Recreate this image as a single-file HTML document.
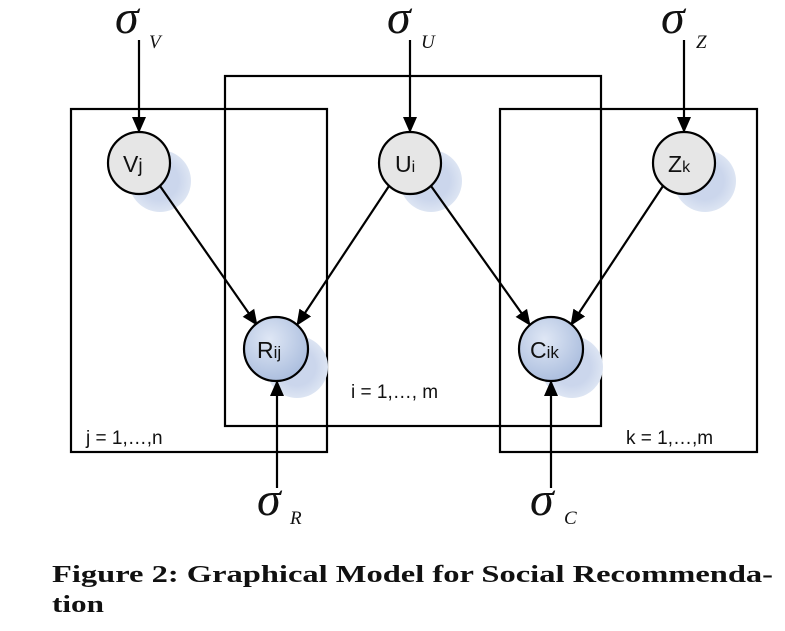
<!DOCTYPE html>
<html><head><meta charset="utf-8"><style>
body{margin:0;background:#fff;width:785px;height:631px;overflow:hidden}
svg{display:block}
.nt{font-family:"Liberation Sans",sans-serif;font-size:23px;fill:#111}
.sg{font-family:"Liberation Serif",serif;font-style:italic;font-size:48px;fill:#111}
.sb{font-family:"Liberation Serif",serif;font-style:italic;font-size:19px;fill:#111}
.lb{font-family:"Liberation Sans",sans-serif;font-size:19px;fill:#111}
.cap{font-family:"Liberation Serif",serif;font-weight:bold;font-size:24px;fill:#111}
</style></head><body>
<svg width="785" height="631" viewBox="0 0 785 631">
<defs>
<marker id="ah2" markerWidth="16" markerHeight="16" refX="15" refY="8" orient="auto" markerUnits="userSpaceOnUse" viewBox="0 0 16 16"><path d="M0,1 L16,8 L0,15 z" fill="#000"/></marker>
<radialGradient id="gb" cx="0.4" cy="0.35" r="0.7"><stop offset="0" stop-color="#dfe7f5"/><stop offset="1" stop-color="#a9bcdd"/></radialGradient>
<radialGradient id="sh" cx="0.5" cy="0.5" r="0.5"><stop offset="0.6" stop-color="#cbd6ec"/><stop offset="1" stop-color="#dde5f3"/></radialGradient>
</defs>
<g fill="none" stroke="#000" stroke-width="2.2">
<rect x="71" y="109" width="256" height="343"/>
<rect x="225" y="76" width="376" height="350"/>
<rect x="500" y="109" width="257" height="343"/>
</g>
<g fill="url(#sh)">
<circle cx="160" cy="181" r="31"/><circle cx="431" cy="181" r="31"/><circle cx="705" cy="181" r="31"/>
<circle cx="297" cy="367" r="31"/><circle cx="572" cy="367" r="31"/>
</g>
<g stroke="#000" stroke-width="2.2" marker-end="url(#ah2)">
<line x1="139" y1="40" x2="139" y2="132"/>
<line x1="410" y1="40" x2="410" y2="132"/>
<line x1="684" y1="40" x2="684" y2="132"/>
<line x1="277" y1="488" x2="277" y2="381"/>
<line x1="551" y1="488" x2="551" y2="381"/>
<line x1="160" y1="186" x2="257" y2="325"/>
<line x1="389" y1="186" x2="297" y2="325"/>
<line x1="431" y1="186" x2="530" y2="325"/>
<line x1="663" y1="186" x2="571" y2="325"/>
</g>
<g stroke="#000" stroke-width="2.2">
<circle cx="139" cy="163" r="31" fill="#e6e6e6"/>
<circle cx="410" cy="163" r="31" fill="#e6e6e6"/>
<circle cx="684" cy="163" r="31" fill="#e6e6e6"/>
<circle cx="276" cy="349" r="32" fill="url(#gb)"/>
<circle cx="551" cy="349" r="32" fill="url(#gb)"/>
</g>
<text class="nt" x="123" y="172">V<tspan font-size="19">j</tspan></text>
<text class="nt" x="395" y="172">U<tspan font-size="16">i</tspan></text>
<text class="nt" x="668" y="172">Z<tspan font-size="16">k</tspan></text>
<text class="nt" x="257" y="358">R<tspan font-size="17">ij</tspan></text>
<text class="nt" x="530" y="358">C<tspan font-size="17">ik</tspan></text>
<text class="sg" x="115" y="33">σ</text><text class="sb" x="149" y="48">V</text>
<text class="sg" x="387" y="33">σ</text><text class="sb" x="421" y="48">U</text>
<text class="sg" x="661" y="33">σ</text><text class="sb" x="696" y="48">Z</text>
<text class="sg" x="257" y="515">σ</text><text class="sb" x="290" y="524">R</text>
<text class="sg" x="530" y="515">σ</text><text class="sb" x="564" y="524">C</text>
<text class="lb" x="86" y="444">j = 1,…,n</text>
<text class="lb" x="351" y="398">i = 1,…, m</text>
<text class="lb" x="626" y="444">k = 1,…,m</text>
<text class="cap" x="52" y="582" textLength="721" lengthAdjust="spacingAndGlyphs">Figure 2:  Graphical Model for Social Recommenda-</text>
<text class="cap" x="52" y="612" textLength="52" lengthAdjust="spacingAndGlyphs">tion</text>
</svg>
</body></html>
